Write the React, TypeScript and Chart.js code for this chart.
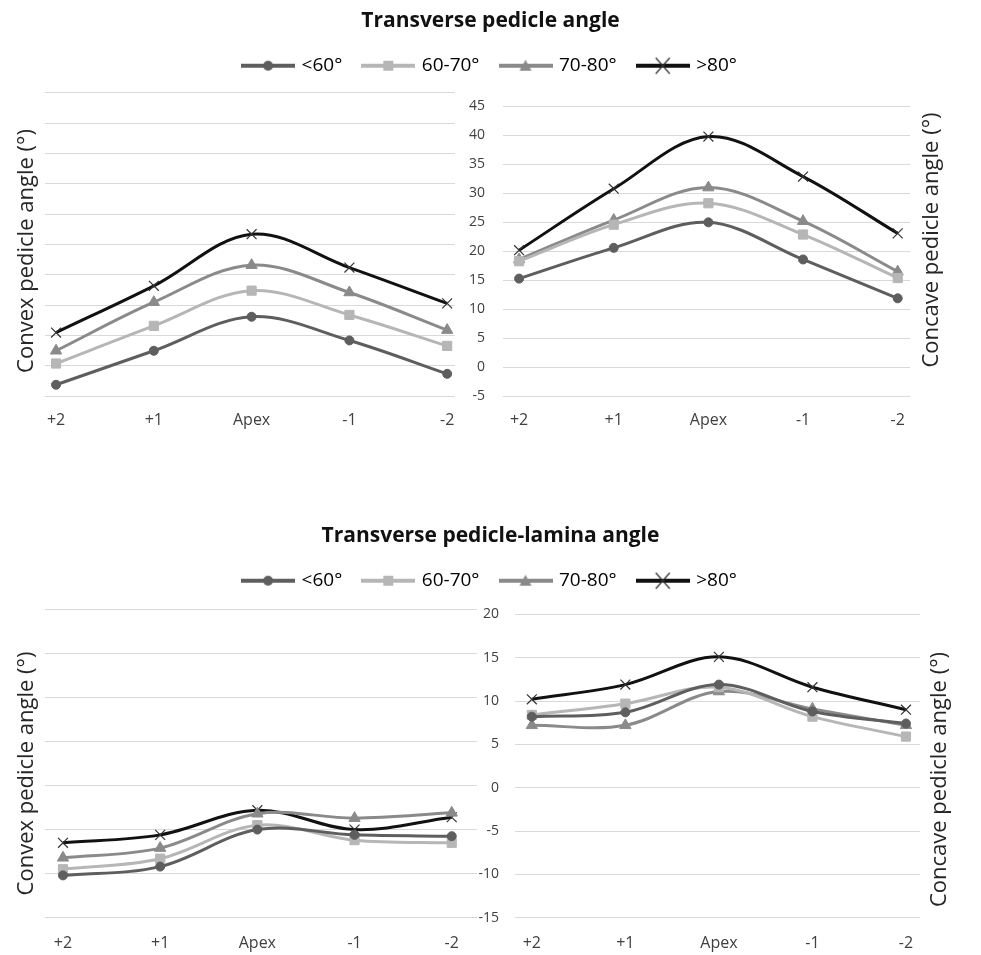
import React, { useEffect, useRef } from 'react';
import { Chart, registerables } from 'chart.js';

Chart.register(...registerables);

// ---------- data ----------
const categories = ['+2', '+1', 'Apex', '-1', '-2'];
const seriesNames = ['<60°', '60-70°', '70-80°', '>80°'];

const panelTitleTop = 'Transverse pedicle angle';
const panelTitleBottom = 'Transverse pedicle-lamina angle';
const convexTitle = 'Convex pedicle angle (°)';
const concaveTitle = 'Concave pedicle angle (°)';

// Transverse pedicle angle – convex side
const pedConvexLt60 = [-3.1, 2.5, 8.1, 4.2, -1.3];
const pedConvex60to70 = [0.4, 6.6, 12.4, 8.4, 3.3];
const pedConvex70to80 = [2.5, 10.5, 16.6, 12.1, 5.9];
const pedConvexGt80 = [5.5, 13.2, 21.7, 16.2, 10.3];

// Transverse pedicle angle – concave side
const pedConcaveLt60 = [15.3, 20.6, 25.0, 18.6, 11.9];
const pedConcave60to70 = [18.3, 24.6, 28.3, 22.9, 15.4];
const pedConcave70to80 = [18.6, 25.4, 31.0, 25.2, 16.5];
const pedConcaveGt80 = [20.2, 30.8, 39.8, 32.9, 23.1];

// Transverse pedicle-lamina angle – convex side
const lamConvexLt60 = [-10.2, -9.2, -5.0, -5.6, -5.75];
const lamConvex60to70 = [-9.5, -8.3, -4.5, -6.2, -6.5];
const lamConvex70to80 = [-8.2, -7.1, -3.2, -3.7, -3.1];
const lamConvexGt80 = [-6.5, -5.6, -2.8, -5.0, -3.6];

// Transverse pedicle-lamina angle – concave side
const lamConcaveLt60 = [8.2, 8.7, 11.9, 8.8, 7.4];
const lamConcave60to70 = [8.4, 9.7, 11.6, 8.2, 5.9];
const lamConcave70to80 = [7.2, 7.2, 11.1, 9.1, 7.2];
const lamConcaveGt80 = [10.2, 11.9, 15.1, 11.6, 9.0];

// ---------- styles ----------
const FONT = "'Open Sans', 'DejaVu Sans', sans-serif";
const seriesColors = ['#5e5e5e', '#b6b6b6', '#8a8a8a', '#111111'];
const markerStyles = ['circle', 'rect', 'triangle', 'crossRot'];
const markerRadius = [4.5, 6.5, 6.5, 7];
const gridColor = '#d9d9d9';
const tickColor = '#404040';

function makeLegendIcon(i: number): HTMLCanvasElement {
  const c = document.createElement('canvas');
  c.width = 54;
  c.height = 20;
  const ctx = c.getContext('2d')!;
  const cy = 10;
  const cx = 27;
  ctx.strokeStyle = seriesColors[i];
  ctx.lineWidth = 4;
  ctx.beginPath();
  ctx.moveTo(0, cy);
  ctx.lineTo(54, cy);
  ctx.stroke();
  ctx.fillStyle = seriesColors[i];
  if (i === 0) {
    ctx.beginPath();
    ctx.arc(cx, cy, 5, 0, Math.PI * 2);
    ctx.fill();
  } else if (i === 1) {
    ctx.fillRect(cx - 5, cy - 5, 10, 10);
  } else if (i === 2) {
    ctx.beginPath();
    ctx.moveTo(cx, cy - 6);
    ctx.lineTo(cx + 6, cy + 5);
    ctx.lineTo(cx - 6, cy + 5);
    ctx.closePath();
    ctx.fill();
  } else {
    ctx.strokeStyle = '#333';
    ctx.lineWidth = 1.2;
    ctx.beginPath();
    ctx.moveTo(cx - 7, cy - 8);
    ctx.lineTo(cx + 7, cy + 8);
    ctx.moveTo(cx + 7, cy - 8);
    ctx.lineTo(cx - 7, cy + 8);
    ctx.stroke();
  }
  return c;
}

function headerConfig(title: string): any {
  const icons = seriesNames.map((_, i) => makeLegendIcon(i));
  return {
    type: 'line',
    data: {
      labels: categories,
      datasets: seriesNames.map((n, i) => ({ label: n, data: [], borderColor: seriesColors[i] })),
    },
    options: {
      animation: false,
      responsive: false,
      maintainAspectRatio: false,
      events: [],
      layout: { padding: 0 },
      scales: { x: { display: false }, y: { display: false } },
      plugins: {
        tooltip: { enabled: false },
        title: {
          display: true,
          text: title,
          color: '#111',
          font: { family: FONT, size: 21, weight: 'bold' },
          padding: { top: 8, bottom: 1 },
        },
        legend: {
          display: true,
          position: 'top',
          labels: {
            usePointStyle: true,
            pointStyleWidth: 48,
            boxHeight: 19,
            padding: 22,
            color: '#262626',
            font: { family: FONT, size: 19 },
            generateLabels: () =>
              seriesNames.map((n, i) => ({
                text: n,
                pointStyle: icons[i],
                fillStyle: seriesColors[i],
                strokeStyle: seriesColors[i],
                lineWidth: 0,
                hidden: false,
                datasetIndex: i,
              })),
          },
        },
      },
    },
  };
}

interface PanelOpts {
  series: number[][];
  yMin: number;
  yMax: number;
  xMin: number;
  xMax: number;
  showTicks: boolean;
  tickPad: number;
  padding: any;
  yWidth: number;
  xHeight: number;
  xPad: number;
  yTitle: string;
  yTitleX: number;
  yTitleY: number;
}

function panelConfig(o: PanelOpts): any {
  const titlePlugin = {
    id: 'rotTitle',
    afterDraw(chart: any) {
      const ctx = chart.ctx;
      ctx.save();
      ctx.translate(o.yTitleX, o.yTitleY);
      ctx.rotate(-Math.PI / 2);
      ctx.font = `22px ${FONT}`;
      ctx.fillStyle = '#262626';
      ctx.textAlign = 'center';
      ctx.textBaseline = 'middle';
      ctx.fillText(o.yTitle, 0, 0);
      ctx.restore();
    },
  };
  return {
    type: 'line',
    data: {
      datasets: o.series.map((vals, i) => ({
        label: seriesNames[i],
        data: vals.map((v, k) => ({ x: k, y: v })),
        borderColor: seriesColors[i],
        backgroundColor: seriesColors[i],
        borderWidth: 3,
        tension: 0.35,
        pointStyle: markerStyles[i],
        pointRadius: markerRadius[i],
        pointBackgroundColor: i === 3 ? 'rgba(0,0,0,0)' : seriesColors[i],
        pointBorderColor: i === 3 ? '#333' : seriesColors[i],
        pointBorderWidth: i === 3 ? 1.2 : 1,
        fill: false,
        clip: false,
      })),
    },
    options: {
      animation: false,
      responsive: false,
      maintainAspectRatio: false,
      events: [],
      layout: { padding: o.padding },
      plugins: { legend: { display: false }, title: { display: false }, tooltip: { enabled: false } },
      scales: {
        x: {
          type: 'linear',
          min: o.xMin,
          max: o.xMax,
          grid: { display: false, drawTicks: false },
          border: { display: false },
          afterBuildTicks: (scale: any) => {
            scale.ticks = categories.map((_, k) => ({ value: k }));
          },
          afterFit: (scale: any) => {
            scale.height = o.xHeight;
          },
          ticks: {
            autoSkip: false,
            maxRotation: 0,
            padding: o.xPad,
            color: tickColor,
            font: { family: FONT, size: 16 },
            callback: (v: number) => categories[Math.round(v)] ?? '',
          },
        },
        y: {
          type: 'linear',
          min: o.yMin,
          max: o.yMax,
          grid: { color: gridColor, lineWidth: 1, drawTicks: false },
          border: { display: false },
          afterFit: (scale: any) => {
            scale.width = o.yWidth;
          },
          ticks: {
            display: o.showTicks,
            stepSize: 5,
            padding: o.tickPad,
            color: tickColor,
            font: { family: FONT, size: 14 },
          },
        },
      },
    },
    plugins: [titlePlugin],
  };
}

function ChartBox(props: { left: number; top: number; width: number; height: number; build: () => any }) {
  const ref = useRef<HTMLCanvasElement>(null);
  useEffect(() => {
    const chart = new Chart(ref.current as HTMLCanvasElement, props.build());
    return () => chart.destroy();
  }, []);
  return (
    <canvas
      ref={ref}
      width={props.width}
      height={props.height}
      style={{ position: 'absolute', left: props.left, top: props.top, width: props.width, height: props.height }}
    />
  );
}

export default function App() {
  return (
    <div style={{ position: 'absolute', left: 0, top: 0, width: 981, height: 955, background: '#fff', overflow: 'hidden' }}>
      <ChartBox left={0} top={0} width={981} height={85} build={() => headerConfig(panelTitleTop)} />
      <ChartBox
        left={0}
        top={80}
        width={470}
        height={360}
        build={() =>
          panelConfig({
            series: [pedConvexLt60, pedConvex60to70, pedConvex70to80, pedConvexGt80],
            yMin: -5,
            yMax: 45,
            xMin: -0.113,
            xMax: 4.08,
            showTicks: false,
            tickPad: 0,
            padding: { top: 12.7, right: 15, left: 0, bottom: 0 },
            yWidth: 45,
            xHeight: 43.7,
            xPad: 15,
            yTitle: convexTitle,
            yTitleX: 27,
            yTitleY: 171,
          })
        }
      />
      <ChartBox
        left={460}
        top={80}
        width={521}
        height={360}
        build={() =>
          panelConfig({
            series: [pedConcaveLt60, pedConcave60to70, pedConcave70to80, pedConcaveGt80],
            yMin: -5,
            yMax: 45,
            xMin: -0.17,
            xMax: 4.13,
            showTicks: true,
            tickPad: 18,
            padding: { top: 12.7, right: 71, left: 0, bottom: 0 },
            yWidth: 43,
            xHeight: 43.7,
            xPad: 15,
            yTitle: concaveTitle,
            yTitleX: 472,
            yTitleY: 160,
          })
        }
      />
      <ChartBox left={0} top={515} width={981} height={80} build={() => headerConfig(panelTitleBottom)} />
      <ChartBox
        left={0}
        top={590}
        width={500}
        height={365}
        build={() =>
          panelConfig({
            series: [lamConvexLt60, lamConvex60to70, lamConvex70to80, lamConvexGt80],
            yMin: -15,
            yMax: 20,
            xMin: -0.185,
            xMax: 4.26,
            showTicks: false,
            tickPad: 0,
            padding: { top: 19.3, right: 23, left: 0, bottom: 0 },
            yWidth: 45,
            xHeight: 37.3,
            xPad: 16,
            yTitle: convexTitle,
            yTitleX: 27,
            yTitleY: 183.5,
          })
        }
      />
      <ChartBox
        left={470}
        top={590}
        width={511}
        height={365}
        build={() =>
          panelConfig({
            series: [lamConcaveLt60, lamConcave60to70, lamConcave70to80, lamConcaveGt80],
            yMin: -15,
            yMax: 20,
            xMin: -0.18,
            xMax: 4.15,
            showTicks: true,
            tickPad: 16,
            padding: { top: 19.3, right: 61, left: 0, bottom: 0 },
            yWidth: 45,
            xHeight: 37.3,
            xPad: 16,
            yTitle: concaveTitle,
            yTitleX: 470,
            yTitleY: 189.5,
          })
        }
      />
    </div>
  );
}
